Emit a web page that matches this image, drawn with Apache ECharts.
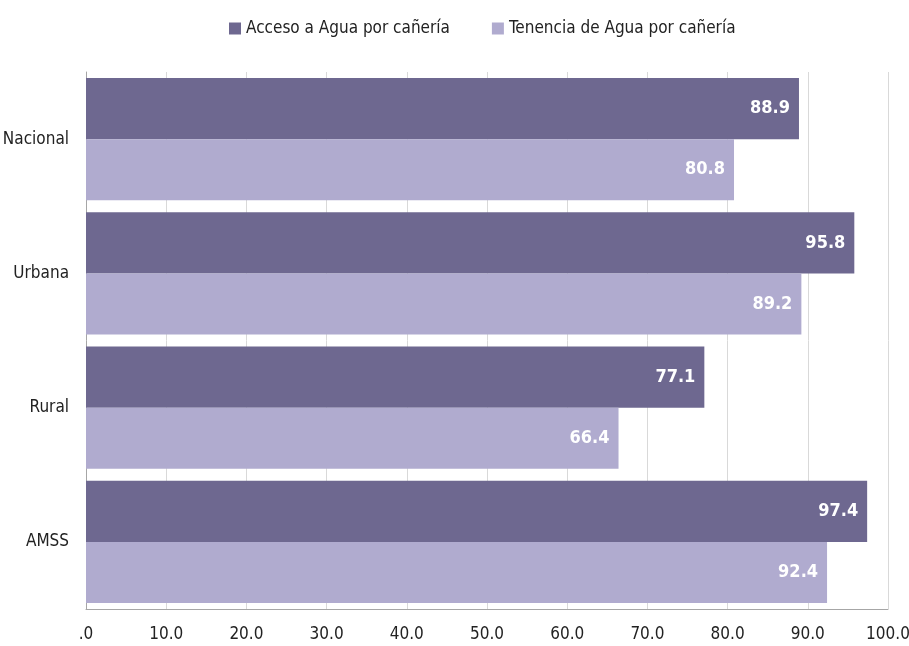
<!DOCTYPE html>
<html>
<head>
<meta charset="utf-8">
<script src="https://cdn.jsdelivr.net/npm/echarts@6/dist/echarts.min.js"></script>
<style>
  html, body { margin: 0; padding: 0; background: #fff; }
  #chart { width: 909px; height: 646px; }
</style>
</head>
<body>
<div id="chart"></div>
<script>
// datos
const categorias = ['Nacional', 'Urbana', 'Rural', 'AMSS'];
const acceso = [88.9, 95.8, 77.1, 97.4];
const tenencia = [80.8, 89.2, 66.4, 92.4];
const nombres = ['Acceso a Agua por cañería', 'Tenencia de Agua por cañería'];

const fuente = '"Liberation Sans Narrow", "DejaVu Sans Condensed", "Liberation Sans", sans-serif';
const chart = echarts.init(document.getElementById('chart'));

const etiqueta = {
  show: true,
  position: 'insideRight',
  distance: 9,
  color: '#fff',
  fontWeight: 'bold',
  fontSize: 18,
  fontFamily: fuente,
  formatter: p => p.value.toFixed(1)
};

chart.setOption({
  animation: false,
  textStyle: { fontFamily: fuente },
  legend: {
    top: 15,
    left: 224,
    itemWidth: 12,
    itemHeight: 12,
    itemGap: 42,
    icon: 'rect',
    textStyle: { fontSize: 17, color: '#222', fontFamily: fuente },
    data: nombres
  },
  grid: { left: 86, right: 21, top: 72, bottom: 37, outerBoundsMode: 'none' },
  xAxis: {
    type: 'value',
    min: 0,
    max: 100,
    interval: 10,
    axisLine: { show: true, lineStyle: { color: '#A6A6A6' } },
    axisTick: { show: false },
    splitLine: { show: true, lineStyle: { color: '#D9D9D9' } },
    axisLabel: {
      color: '#222', fontSize: 17, margin: 17, fontFamily: fuente,
      formatter: v => (v === 0 ? '.0' : v.toFixed(1))
    }
  },
  yAxis: {
    type: 'category',
    inverse: true,
    data: categorias,
    axisLine: { show: true, lineStyle: { color: '#A6A6A6' } },
    axisTick: { show: false },
    axisLabel: { color: '#222', fontSize: 17, margin: 17, fontFamily: fuente }
  },
  series: [
    {
      name: nombres[0],
      type: 'bar',
      data: acceso,
      itemStyle: { color: '#6E6890' },
      barGap: '0%',
      barCategoryGap: '9%',
      label: etiqueta
    },
    {
      name: nombres[1],
      type: 'bar',
      data: tenencia,
      itemStyle: { color: '#B0ABCF' },
      barGap: '0%',
      barCategoryGap: '9%',
      label: etiqueta
    }
  ]
});
</script>
</body>
</html>
